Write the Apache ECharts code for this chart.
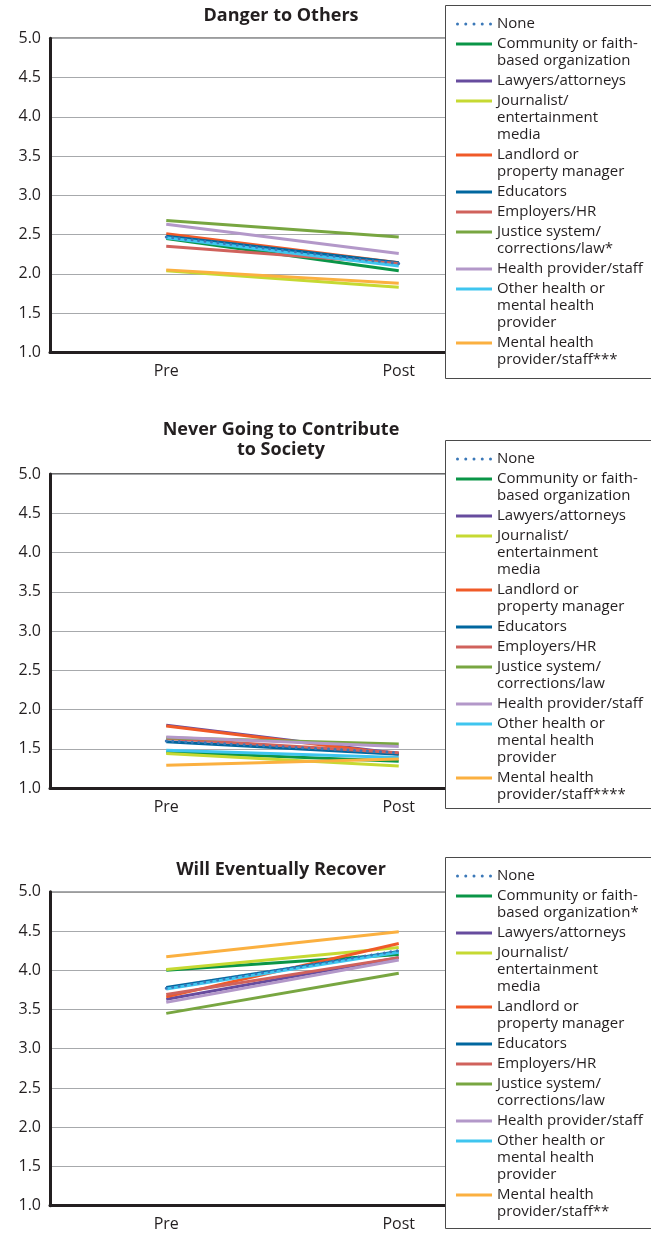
<!DOCTYPE html>
<html><head><meta charset="utf-8">
<script src="https://cdn.jsdelivr.net/npm/echarts@6/dist/echarts.min.js"></script>
<style>html,body{margin:0;padding:0;background:#fff}#c{width:651px;height:1234px}</style>
</head><body><div id="c"></div>
<script>
// ---- data ----
const categories = ['Pre', 'Post'];
const groups = ['None', 'Community or faith-based organization', 'Lawyers/attorneys',
  'Journalist/entertainment media', 'Landlord or property manager', 'Educators', 'Employers/HR',
  'Justice system/corrections/law', 'Health provider/staff', 'Other health or mental health provider',
  'Mental health provider/staff'];
const legendLines = [['None'], ['Community or faith-', 'based organization'], ['Lawyers/attorneys'],
  ['Journalist/', 'entertainment', 'media'], ['Landlord or', 'property manager'], ['Educators'],
  ['Employers/HR'], ['Justice system/', 'corrections/law'], ['Health provider/staff'],
  ['Other health or', 'mental health', 'provider'], ['Mental health', 'provider/staff']];
const chartTitles = ['Danger to Others', 'Never Going to Contribute\nto Society', 'Will Eventually Recover'];
const dangerMarks = ['', '', '', '', '', '', '', '*', '', '', '***'];
const contributeMarks = ['', '', '', '', '', '', '', '', '', '', '****'];
const recoverMarks = ['', '*', '', '', '', '', '', '', '', '', '**'];
const dangerPre = [2.47, 2.45, 2.47, 2.04, 2.51, 2.48, 2.35, 2.68, 2.63, 2.46, 2.05];
const dangerPost = [2.13, 2.04, 2.12, 1.83, 2.14, 2.14, 2.13, 2.47, 2.26, 2.10, 1.88];
const contributePre = [1.60, 1.46, 1.80, 1.44, 1.79, 1.59, 1.63, 1.64, 1.65, 1.48, 1.29];
const contributePost = [1.45, 1.34, 1.44, 1.28, 1.43, 1.43, 1.45, 1.56, 1.53, 1.39, 1.37];
const recoverPre = [3.77, 4.00, 3.63, 4.01, 3.66, 3.78, 3.69, 3.45, 3.59, 3.76, 4.17];
const recoverPost = [4.25, 4.20, 4.16, 4.29, 4.34, 4.24, 4.16, 3.96, 4.13, 4.23, 4.49];

// ---- styles / layout ----
const colors = ['#3b78b8', '#0a9547', '#674c9e', '#c6d932', '#f05a28', '#00679f', '#d0625c',
  '#78a641', '#b398c9', '#3fc5ef', '#fbb040'];
const FONT = 'Open Sans';
const INK = '#231f20';
const charts = [
  {title: chartTitles[0], pre: dangerPre, post: dangerPost, marks: dangerMarks, gridTop: 38.3, titleTop: 6, boxTop: 5, boxH: 373},
  {title: chartTitles[1], pre: contributePre, post: contributePost, marks: contributeMarks, gridTop: 474, titleTop: 420, boxTop: 440, boxH: 368},
  {title: chartTitles[2], pre: recoverPre, post: recoverPost, marks: recoverMarks, gridTop: 891.7, titleTop: 860, boxTop: 857, boxH: 371}
];
const LH = 17;
const dotsIcon = 'path://M1.5,0A1.5,1.5,0,1,1,1.5,3A1.5,1.5,0,1,1,1.5,0ZM9.75,0A1.5,1.5,0,1,1,9.75,3A1.5,1.5,0,1,1,9.75,0ZM18,0A1.5,1.5,0,1,1,18,3A1.5,1.5,0,1,1,18,0ZM26.25,0A1.5,1.5,0,1,1,26.25,3A1.5,1.5,0,1,1,26.25,0ZM34.5,0A1.5,1.5,0,1,1,34.5,3A1.5,1.5,0,1,1,34.5,0Z';

const grid = [], xAxis = [], yAxis = [], series = [], legend = [], title = [], graphic = [];
charts.forEach((c, k) => {
  grid.push({left: 50, top: c.gridTop, width: 465, height: 314, show: true,
    borderColor: '#3a3a3a', borderWidth: 1.5, backgroundColor: 'transparent'});
  xAxis.push({type: 'category', gridIndex: k, data: categories, boundaryGap: true,
    axisLine: {lineStyle: {color: INK, width: 3}},
    axisTick: {inside: true, length: 11, lineStyle: {color: INK, width: 1}},
    axisLabel: {fontSize: 16, color: INK, margin: 11, fontFamily: FONT}});
  yAxis.push({type: 'value', gridIndex: k, min: 1, max: 5, interval: 0.5,
    axisLine: {show: true, lineStyle: {color: INK, width: 3}},
    axisTick: {show: false},
    axisLabel: {fontSize: 16, color: INK, margin: 9, fontFamily: FONT, formatter: v => v.toFixed(1)},
    splitLine: {lineStyle: {color: '#a7a9ac', width: 1}}});
  title.push({text: c.title, left: 281, top: c.titleTop, textAlign: 'center', padding: 0,
    textStyle: {fontSize: 18, fontWeight: 'bold', color: INK, fontFamily: FONT, lineHeight: 20}});
  graphic.push({type: 'rect', z: 5, shape: {x: 445.5, y: c.boxTop + 0.5, width: 240, height: c.boxH},
    style: {fill: '#fff', stroke: '#4a4a4a', lineWidth: 1}});
  const order = [1, 2, 3, 4, 5, 6, 7, 8, 9, 10, 0];
  order.forEach(i => {
    const isNone = i === 0;
    series.push({type: 'line', name: groups[i] + c.marks[i], xAxisIndex: k, yAxisIndex: k,
      data: [c.pre[i], c.post[i]], symbol: 'none', silent: true, z: isNone ? 3 : 2,
      lineStyle: isNone ? {color: colors[i], width: 3, type: [0, 6.5], cap: 'round'} : {color: colors[i], width: 3},
      itemStyle: {color: colors[i]}});
  });
  let center = c.boxTop + 19;
  groups.forEach((g, i) => {
    const lines = legendLines[i].slice();
    lines[lines.length - 1] += c.marks[i];
    const n = lines.length;
    legend.push({orient: 'vertical', left: 456, top: center - 8.5 * (2 * n - 1), padding: 0,
      itemWidth: 36, itemHeight: 3, itemGap: 0, selectedMode: false, z: 10,
      data: [{name: g + c.marks[i], icon: i === 0 ? dotsIcon : 'rect', itemStyle: {color: colors[i]}}],
      formatter: '\n'.repeat(n - 1) + lines.join('\n'),
      textStyle: {fontSize: 15, lineHeight: LH, color: INK, fontFamily: FONT}});
    center += LH * n + 3;
  });
});

const chart = echarts.init(document.getElementById('c'), null, {renderer: 'canvas'});
chart.setOption({animation: false, backgroundColor: '#fff', title, grid, xAxis, yAxis, series, legend, graphic});
</script></body></html>
